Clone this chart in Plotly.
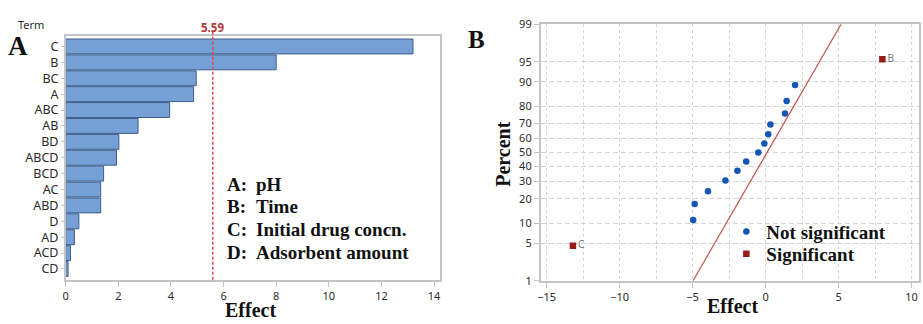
from statistics import NormalDist

import plotly.graph_objects as go

# ---- Pareto chart of standardized effects (panel A) ----
terms = ["C", "B", "BC", "A", "ABC", "AB", "BD", "ABCD", "BCD", "AC", "ABD", "D", "AD", "ACD", "CD"]
abs_effects = [13.2, 8.0, 4.96, 4.86, 3.95, 2.75, 2.02, 1.93, 1.44, 1.33, 1.33, 0.50, 0.33, 0.18, 0.09]
ref_value = 5.59
pareto_ticks = [0, 2, 4, 6, 8, 10, 12, 14]
factor_keys = ["A:", "B:", "C:", "D:"]
factor_names = ["pH", "Time", "Initial drug concn.", "Adsorbent amount"]

# ---- Normal plot of effects (panel B) ----
ns_effect = [-4.96, -4.86, -3.95, -2.75, -1.93, -1.33, -0.50, -0.09, 0.18, 0.33, 1.33, 1.44, 2.02]
ns_percent = [11.04, 17.53, 24.03, 30.52, 37.01, 43.51, 50.0, 56.49, 62.99, 69.48, 75.97, 82.47, 88.96]
sig_terms = ["C", "B"]
sig_effect = [-13.2, 8.0]
sig_percent = [4.55, 95.45]
fit_mean = 0.10
fit_sd = 2.18
pct_ticks = [1, 5, 10, 20, 30, 40, 50, 60, 70, 80, 90, 95, 99]
eff_ticks = [-15, -10, -5, 0, 5, 10]
eff_minor = [-12.5, -7.5, -2.5, 2.5, 7.5]

nd = NormalDist()


def probit(p):
    return nd.inv_cdf(p / 100.0)


W, H = 923, 324
SERIF = "Liberation Serif"
SANS = "Noto Sans"
TICK_COL = "#2b2b2b"
FRAME = "#c4c4c4"
INK = "#111111"


def px(x):
    return x / W


def py(y):
    return 1 - y / H


fig = go.Figure()

# Pareto bars
fig.add_trace(go.Bar(
    x=abs_effects, y=terms, orientation="h",
    marker=dict(color="#74a0d6", line=dict(color="#3f5d88", width=1)),
    xaxis="x", yaxis="y", showlegend=False,
))

# normal plot points
fig.add_trace(go.Scatter(
    x=ns_effect, y=[probit(p) for p in ns_percent], mode="markers",
    marker=dict(symbol="circle", size=6.5, color="#1456b4"),
    name="Not significant", xaxis="x2", yaxis="y2", legend="legend",
))
fig.add_trace(go.Scatter(
    x=sig_effect, y=[probit(p) for p in sig_percent], mode="markers+text",
    text=sig_terms, textposition="middle right",
    textfont=dict(family=SANS, size=10, color="#777777"),
    marker=dict(symbol="square", size=6.5, color="#9a1a1a"),
    name="Significant", xaxis="x2", yaxis="y2", legend="legend2",
))

# fitted normal line
z_lo, z_hi = probit(pct_ticks[0]), probit(pct_ticks[-1])
fig.add_trace(go.Scatter(
    x=[fit_mean + fit_sd * z_lo, fit_mean + fit_sd * z_hi], y=[z_lo, z_hi],
    mode="lines", line=dict(color="#c0574f", width=1.2),
    xaxis="x2", yaxis="y2", showlegend=False, hoverinfo="skip",
))

# domains (paper fractions)
xd1 = [px(63), px(439)]
yd1 = [py(285), py(29)]
xd2 = [px(540), px(920)]
yd2 = [py(286), py(17)]

axis_common = dict(showline=True, linecolor=FRAME, linewidth=1.5, mirror=True,
                   ticks="outside", tickcolor=FRAME, zeroline=False)
hgrid = dict(showgrid=True, gridcolor="#d4d4d4", griddash="5px,3px", gridwidth=1)
vgrid = dict(showgrid=True, gridcolor="#d4d4d4", griddash="3px,3px", gridwidth=1)

legend_style = dict(xanchor="left", yanchor="top", bgcolor="rgba(0,0,0,0)",
                    borderwidth=0, itemwidth=30,
                    font=dict(family=SERIF, size=19, color=INK, weight="bold"))

fig.update_layout(
    width=W, height=H, autosize=False,
    margin=dict(l=0, r=0, t=0, b=0, pad=0),
    paper_bgcolor="white", plot_bgcolor="white",
    bargap=0.06,
    xaxis=dict(domain=xd1, range=[0, 14.23], tickvals=pareto_ticks, ticklen=5,
               tickfont=dict(family=SANS, size=11, color=TICK_COL),
               showgrid=False, anchor="y", **axis_common),
    yaxis=dict(domain=yd1, categoryorder="array", categoryarray=terms,
               range=[14.68, -0.68], ticklen=3, showgrid=False, anchor="x",
               tickfont=dict(family=SANS, size=12.5, color=TICK_COL),
               **axis_common),
    xaxis2=dict(domain=xd2, range=[-15.41, 10.51], tickvals=eff_ticks, ticklen=5,
                tickfont=dict(family=SANS, size=11, color=TICK_COL),
                minor=dict(tickvals=eff_minor, **vgrid),
                anchor="y2", **vgrid, **axis_common),
    yaxis2=dict(domain=yd2, range=[z_lo, z_hi],
                tickvals=[probit(p) for p in pct_ticks],
                ticktext=[str(p) for p in pct_ticks], ticklen=5,
                tickfont=dict(family=SANS, size=11, color=TICK_COL),
                anchor="x2", **hgrid, **axis_common),
    legend=dict(x=px(726.5), y=py(214.5), **legend_style),
    legend2=dict(x=px(726.5), y=py(238), **legend_style),
)

# reference line for the critical effect
fig.add_shape(type="line", xref="x", yref="paper", x0=ref_value, x1=ref_value,
              y0=yd1[0], y1=yd1[1] + 0.012,
              line=dict(color="#e0484a", width=1.5, dash="3px,2px"))


def label(x, y, text, size, family=SERIF, color=INK, anchor="center", angle=0):
    return dict(x=px(x), y=py(y), xref="paper", yref="paper", text=text,
                showarrow=False, textangle=angle,
                font=dict(family=family, size=size, color=color),
                xanchor=anchor, yanchor="middle")


ann = [
    dict(x=ref_value, y=py(20), xref="x", yref="paper", text=f"<b>{ref_value}</b>",
         showarrow=False, font=dict(family=SANS, size=11.5, color="#b23a36"),
         xanchor="center", yanchor="middle"),
    label(28, 17, "Term", 11, family=SANS, color=TICK_COL),
    label(15, 40, "<b>A</b>", 27),
    label(476, 33, "<b>B</b>", 25),
    label(249, 317, "<b>Effect</b>", 20),
    label(733, 312, "<b>Effect</b>", 20),
    label(502, 153, "<b>Percent</b>", 20, angle=-90),
]

# factor key
row_y = [185, 208, 232, 256]
for k, name, yy in zip(factor_keys, factor_names, row_y):
    ann.append(label(223, yy, f"<b>{k}</b>", 19, anchor="left"))
    ann.append(label(252, yy, f"<b>{name}</b>", 19, anchor="left"))

fig.update_layout(annotations=ann)

fig.write_html("out.html")
